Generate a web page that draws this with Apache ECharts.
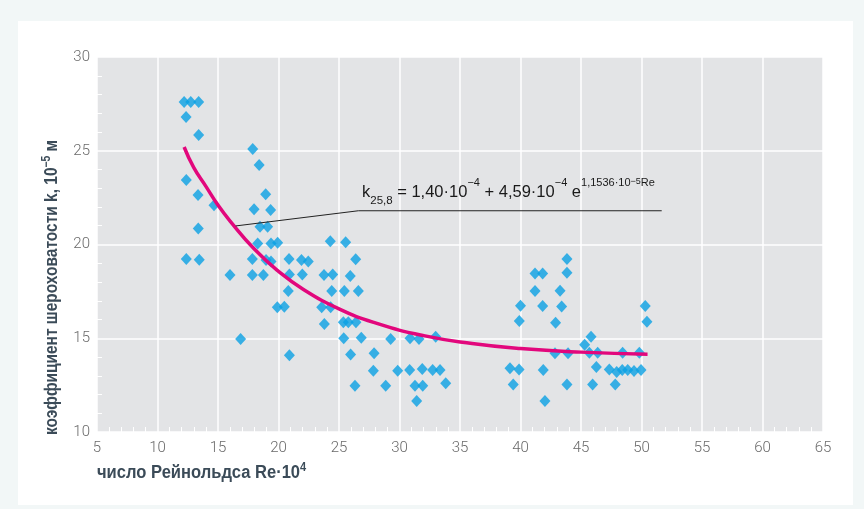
<!DOCTYPE html>
<html>
<head>
<meta charset="utf-8">
<script src="https://cdn.jsdelivr.net/npm/echarts@6/dist/echarts.min.js"></script>
<style>
  html, body { margin: 0; padding: 0; background: #f2f7f7; }
  #chart { width: 864px; height: 509px; }
</style>
</head>
<body>
<div id="chart"></div>
<script>
// число Рейнольдса Re·10^4
const reynolds = [
  12.2, 12.75, 13.4, 12.36, 13.4, 17.87, 18.4, 12.38, 13.35, 14.67,
  18.94, 17.98, 19.35, 13.37, 18.47, 19.1, 18.28, 19.38, 19.93, 12.38,
  13.45, 17.84, 18.97, 19.38, 20.87, 21.9, 22.46, 15.99, 17.84, 18.75,
  20.9, 21.97, 24.28, 25.55, 26.38, 23.76, 24.48, 25.93, 20.81, 24.4,
  25.44, 26.6, 19.9, 20.48, 23.57, 24.31, 23.79, 25.36, 25.77, 26.4,
  16.87, 25.39, 26.84, 20.9, 25.96, 27.9, 27.84, 26.32, 29.27, 28.86,
  29.85, 30.87, 31.61, 32.99, 30.84, 31.88, 32.74, 33.35, 31.28, 31.92,
  33.82, 31.42,
  43.84, 41.2, 41.83, 43.84, 41.2, 43.27, 40.0, 41.83, 43.4, 50.31,
  39.9, 42.9, 50.45, 45.83, 45.3, 42.85, 43.93, 45.69, 46.38, 48.44,
  49.82, 39.13, 39.88, 41.88, 46.27, 47.34, 47.95, 48.41, 48.86, 49.38,
  49.96, 39.4, 43.84, 45.96, 47.83, 42.02
];
// коэффициент шероховатости k, 10^-5 м
const roughness = [
  27.6, 27.6, 27.6, 26.8, 25.84, 25.1, 24.24, 23.44, 22.64, 22.1,
  22.68, 21.88, 21.84, 20.86, 20.95, 20.95, 20.06, 20.06, 20.1, 19.23,
  19.19, 19.23, 19.17, 19.1, 19.23, 19.17, 19.1, 18.37, 18.37, 18.37,
  18.4, 18.4, 20.17, 20.12, 19.21, 18.37, 18.4, 18.32, 17.52, 17.52,
  17.52, 17.52, 16.65, 16.68, 16.65, 16.65, 15.76, 15.85, 15.85, 15.85,
  14.96, 15.0, 15.03, 14.1, 14.14, 14.2, 13.27, 12.47, 14.96, 12.47,
  13.27, 15.0, 14.96, 15.08, 13.31, 13.36, 13.31, 13.31, 12.47, 12.47,
  12.6, 11.65,
  19.23, 18.46, 18.46, 18.5, 17.52, 17.54, 16.74, 16.72, 16.7, 16.72,
  15.92, 15.83, 15.88, 15.08, 14.66, 14.2, 14.2, 14.23, 14.23, 14.23,
  14.23, 13.4, 13.34, 13.31, 13.47, 13.34, 13.2, 13.31, 13.31, 13.25,
  13.31, 12.54, 12.54, 12.54, 12.54, 11.65
];
// аппроксимирующая кривая
const curveRe = [12.2, 13, 14, 15, 16, 18, 20, 22, 25, 28, 32, 36, 40, 45, 50.5];
const curveK = [25.2, 24.1, 23.1, 22.1, 21.25, 19.76, 18.57, 17.63, 16.57, 15.82, 15.14, 14.72, 14.45, 14.26, 14.15];
// выноска к формуле
const leaderRe = [16.46, 26.6, 51.67];
const leaderK = [20.99, 21.8, 21.8];

const sans = '"Liberation Sans", Arial, sans-serif';
const nameColor = '#3b4b58';

const nameRich = {
  b: { fontFamily: sans, fontSize: 18, fontWeight: 'bold', fill: nameColor, lineHeight: 22, verticalAlign: 'middle' },
  s: { fontFamily: sans, fontSize: 12, fontWeight: 'bold', fill: nameColor, lineHeight: 17, verticalAlign: 'top' }
};

const chart = echarts.init(document.getElementById('chart'));

const option = {
  backgroundColor: '#f2f7f7',
  animation: false,
  grid: {
    left: 97, right: 41, top: 57, bottom: 77,
    show: true, backgroundColor: '#e3e4e6', borderWidth: 0,
    outerBoundsMode: 'none'
  },
  graphic: [
    {
      type: 'rect', z: -10, silent: true,
      shape: { x: 18, y: 21, width: 835, height: 484 },
      style: { fill: '#ffffff' }
    },
    {
      // подпись оси X
      type: 'text', x: 97, y: 473, scaleX: 0.92, z: 10,
      style: {
        text: '{b|число Рейнольдса Re·10}{s|4}',
        align: 'left', verticalAlign: 'middle',
        rich: nameRich
      }
    },
    {
      // подпись оси Y
      type: 'text', x: 52, y: 435, rotation: Math.PI / 2, scaleX: 0.86, z: 10,
      style: {
        text: '{b|коэффициент шероховатости k, 10}{s|−5}{b| м}',
        align: 'left', verticalAlign: 'middle',
        rich: nameRich
      }
    },
    {
      // формула
      type: 'text', x: 362, y: 177, z: 10,
      style: {
        text: '{b|k}{sub|25,8}{b| = 1,40·10}{sup|−4}{b| + 4,59·10}{sup|−4}{b| e}{exp|1,1536·10}{exp2|−5}{exp|Re}',
        align: 'left', verticalAlign: 'top',
        rich: {
          b: { fontFamily: sans, fontSize: 16.5, fill: '#1a1a1a', lineHeight: 30, verticalAlign: 'middle' },
          sub: { fontFamily: sans, fontSize: 11.5, fill: '#1a1a1a', lineHeight: 12, verticalAlign: 'bottom' },
          sup: { fontFamily: sans, fontSize: 11, fill: '#1a1a1a', lineHeight: 25, verticalAlign: 'top' },
          exp: { fontFamily: sans, fontSize: 11, fill: '#1a1a1a', lineHeight: 18, verticalAlign: 'top' },
          exp2: { fontFamily: sans, fontSize: 9, fill: '#1a1a1a', lineHeight: 11, verticalAlign: 'top' }
        }
      }
    }
  ],
  xAxis: {
    type: 'value', min: 5, max: 65, interval: 5,
    axisLine: { show: false },
    axisTick: { show: false, inside: true },
    minorTick: { show: true, splitNumber: 5, length: 5, lineStyle: { color: '#ffffff', width: 1 } },
    splitLine: { show: true, lineStyle: { color: '#ffffff', width: 1.5 } },
    axisLabel: { color: '#6a6a6a', fontSize: 15, margin: 9, fontFamily: 'Roboto', fontWeight: 300 }
  },
  yAxis: {
    type: 'value', min: 10, max: 30, interval: 5,
    axisLine: { show: false },
    axisTick: { show: false, inside: true },
    minorTick: { show: true, splitNumber: 5, length: 5, lineStyle: { color: '#ffffff', width: 1 } },
    splitLine: { show: true, lineStyle: { color: '#ffffff', width: 1.5 } },
    axisLabel: { color: '#6a6a6a', fontSize: 15, margin: 7, fontFamily: 'Roboto', fontWeight: 300 }
  },
  series: [
    {
      type: 'scatter',
      symbol: 'diamond',
      symbolSize: [11, 12],
      itemStyle: { color: '#0aa0e3' },
      data: reynolds.map((re, i) => [re, roughness[i]]),
      z: 3
    },
    {
      type: 'line',
      data: curveRe.map((re, i) => [re, curveK[i]]),
      smooth: true,
      symbol: 'none',
      lineStyle: { color: '#e2077c', width: 3.5 },
      z: 4
    },
    {
      type: 'line',
      data: leaderRe.map((re, i) => [re, leaderK[i]]),
      symbol: 'none',
      lineStyle: { color: '#222', width: 1 },
      z: 5
    }
  ]
};

chart.setOption(option);
</script>
</body>
</html>
